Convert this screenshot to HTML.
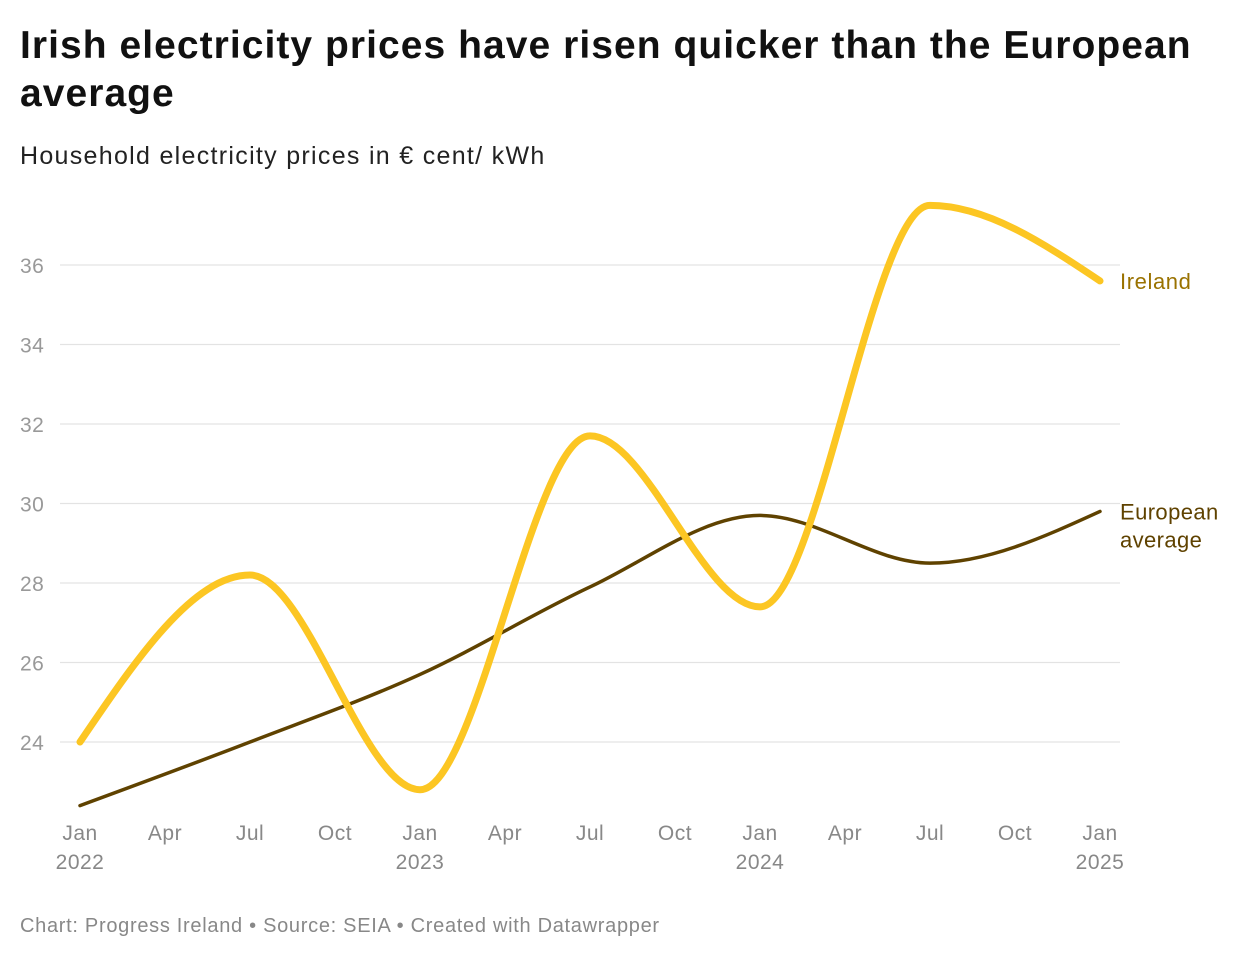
<!DOCTYPE html>
<html><head><meta charset="utf-8">
<style>
body{margin:0;background:#fff;font-family:"Liberation Sans",Arial,sans-serif;}
#wrap{position:relative;width:1240px;height:962px;overflow:hidden}
h1{position:absolute;left:20px;top:22px;margin:0;font-size:39px;line-height:48px;font-weight:bold;color:#111;width:1215px;letter-spacing:1.05px}
.sub{position:absolute;left:20px;top:142px;font-size:25px;color:#222;letter-spacing:1.3px}
.foot{position:absolute;left:20px;top:915px;font-size:20px;color:#888;letter-spacing:0.7px}
svg{position:absolute;left:0;top:0}
</style></head><body>
<div id="wrap">
<h1>Irish electricity prices have risen quicker than the European average</h1>
<div class="sub">Household electricity prices in € cent/ kWh</div>
<svg id="chart" width="1240" height="962"></svg>
<div class="foot">Chart: Progress Ireland • Source: SEIA • Created with Datawrapper</div>
</div>
<script>
const months = [0, 6, 12, 18, 24, 30, 36];
const irelandValues = [24.0, 28.2, 22.8, 31.7, 27.4, 37.5, 35.6];
const europeValues = [22.4, 24.0, 25.7, 27.9, 29.7, 28.5, 29.8];
const yTicks = [24, 26, 28, 30, 32, 34, 36];
const xTickMonths = [0,3,6,9,12,15,18,21,24,27,30,33,36];
const xTickLabels = ["Jan","Apr","Jul","Oct","Jan","Apr","Jul","Oct","Jan","Apr","Jul","Oct","Jan"];
const yearLabels = ["2022","2023","2024","2025"];

const NS="http://www.w3.org/2000/svg";
const svg=document.getElementById('chart');
const x=m=>80+m*(1020/36);
const y=v=>742-(v-24)*39.75;
function mk(t,a){const e=document.createElementNS(NS,t);for(const k in a)e.setAttribute(k,a[k]);svg.appendChild(e);return e;}
yTicks.forEach(v=>{
  const g=mk('line',{x1:60,x2:1120,y1:y(v),y2:y(v),stroke:'#e3e3e3','stroke-width':1.3});
  
  
  const t=mk('text',{x:20,y:y(v)+8,'font-size':21,fill:'#999','letter-spacing':0.5});t.textContent=v;
  
  
});
xTickMonths.forEach((m,i)=>{
  const t=mk('text',{x:x(m),y:840,'font-size':21,fill:'#888','text-anchor':'middle','letter-spacing':0.5});t.textContent=xTickLabels[i];
  
  
  if(m%12===0){const u=mk('text',{x:x(m),y:869,'font-size':21,fill:'#888','text-anchor':'middle','letter-spacing':0.5});u.textContent=yearLabels[m/12];
  
  }
});
function monotone(xs,ys){
  const n=xs.length,d=[],s=[];
  for(let i=0;i<n-1;i++)d.push((ys[i+1]-ys[i])/(xs[i+1]-xs[i]));
  for(let i=0;i<n;i++){
    if(i===0||i===n-1){s.push(null);continue;}
    const a=d[i-1],b=d[i],h0=xs[i]-xs[i-1],h1=xs[i+1]-xs[i];
    if(a*b<=0){s.push(0);continue;}
    const p=(a*h1+b*h0)/(h0+h1);
    s.push((Math.sign(a)+Math.sign(b))*Math.min(Math.abs(a),Math.abs(b),0.5*Math.abs(p)));
  }
  s[0]=(3*d[0]-s[1])/2; s[n-1]=(3*d[n-2]-s[n-2])/2;
  let p=`M${xs[0]},${ys[0]}`;
  for(let i=0;i<n-1;i++){const h=(xs[i+1]-xs[i])/3;
    p+=`C${xs[i]+h},${ys[i]+h*s[i]} ${xs[i+1]-h},${ys[i+1]-h*s[i+1]} ${xs[i+1]},${ys[i+1]}`;}
  return p;
}
const xs=months.map(x);
const eu=mk('path',{d:monotone(xs,europeValues.map(y)),fill:'none',stroke:'#5f4200','stroke-width':3.5,'stroke-linecap':'round'});


const ie=mk('path',{d:monotone(xs,irelandValues.map(y)),fill:'none',stroke:'#fcc623','stroke-width':7,'stroke-linecap':'round'});


const l1=mk('text',{x:1120,y:y(irelandValues[6])+8,'font-size':22,fill:'#9a7200','letter-spacing':0.6});l1.textContent='Ireland';


const l2=mk('text',{x:1120,y:y(europeValues[6])+8,'font-size':22,fill:'#5f4200','letter-spacing':0.4});l2.textContent='European';


const l3=mk('text',{x:1120,y:y(europeValues[6])+36,'font-size':22,fill:'#5f4200','letter-spacing':0.4});l3.textContent='average';


</script>
</body></html>
